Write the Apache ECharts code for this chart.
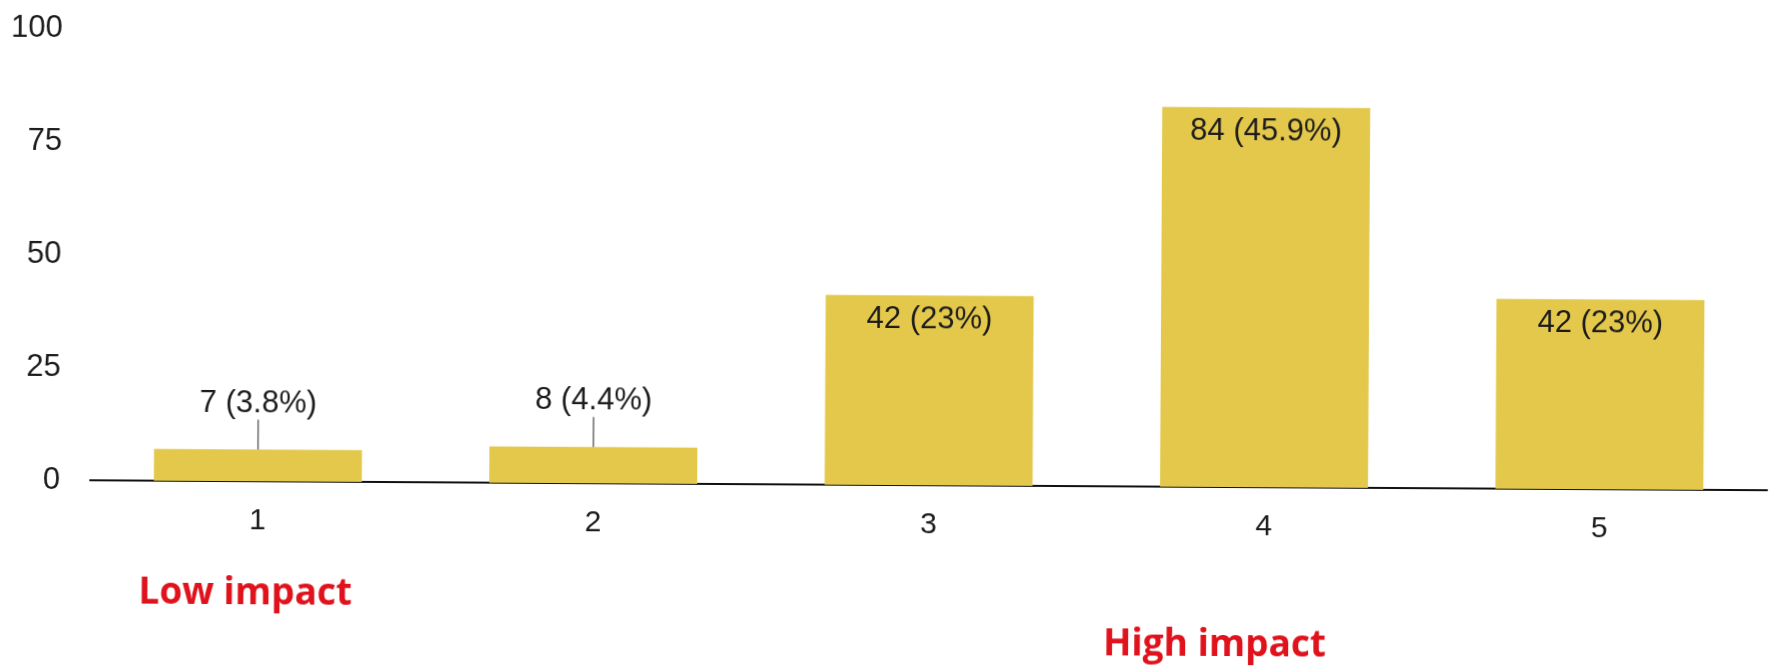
<!DOCTYPE html>
<html>
<head>
<meta charset="utf-8">
<style>
  html, body { margin: 0; padding: 0; background: #ffffff; }
  #chart { width: 1775px; height: 666px; transform: rotate(0.34deg); transform-origin: 50% 50%; }
</style>
<script src="https://cdn.jsdelivr.net/npm/echarts@6/dist/echarts.min.js"></script>
</head>
<body>
<div id="chart"></div>
<script>
// Ratings from 1 (low impact) to 5 (high impact) and how many responses each got
const categories = ['1', '2', '3', '4', '5'];
const counts = [7, 8, 42, 84, 42];
const yTicks = [0, 25, 50, 75, 100];

const total = counts.reduce((a, b) => a + b, 0);
const pct = v => {
  const p = Math.round(v / total * 1000) / 10;
  return (p % 1 === 0 ? p.toFixed(0) : p.toFixed(1)) + '%';
};

const textColor = '#1c1c1c';
const barColor = '#e3c84b';
const labelFont = 31;

// Short bars carry their label above, joined to the bar by a thin leader line
const SMALL = 20;
const barData = counts.map(v => {
  const text = v + ' (' + pct(v) + ')';
  if (v < SMALL) {
    return {
      value: v,
      label: {
        position: 'top',
        distance: 0,
        formatter: '{t|' + text + '}\n{l|}',
        rich: {
          t: { fontSize: labelFont, lineHeight: 32, color: textColor, fontFamily: 'Liberation Sans' },
          l: { width: 1.5, height: 30, lineHeight: 30, backgroundColor: '#6a6a6a', align: 'center' }
        }
      }
    };
  }
  return {
    value: v,
    label: { position: 'insideTop', distance: 9, formatter: text }
  };
});

const chart = echarts.init(document.getElementById('chart'), null, { renderer: 'canvas' });
chart.setOption({
  animation: false,
  backgroundColor: '#ffffff',
  grid: { left: 91, right: 7, top: 33, bottom: 181, containLabel: false },
  xAxis: {
    type: 'category',
    data: categories,
    axisLine: { show: true, lineStyle: { color: '#111111', width: 2 } },
    axisTick: { show: false },
    axisLabel: { color: textColor, fontSize: 30, fontFamily: 'Liberation Sans', margin: 25 },
    splitLine: { show: false }
  },
  yAxis: {
    type: 'value',
    min: yTicks[0],
    max: yTicks[yTicks.length - 1],
    interval: yTicks[1] - yTicks[0],
    axisLine: { show: false },
    axisTick: { show: false },
    splitLine: { show: false },
    axisLabel: { color: textColor, fontSize: 31, fontFamily: 'Liberation Sans', margin: 30 }
  },
  series: [{
    type: 'bar',
    data: barData,
    barCategoryGap: '38%',
    itemStyle: { color: barColor },
    label: {
      show: true,
      color: textColor,
      fontSize: labelFont,
      fontFamily: 'Liberation Sans'
    }
  }],
  graphic: [
    {
      type: 'text',
      left: 140,
      top: 579,
      style: { text: 'Low impact', fill: '#e0121c', font: 'bold 37px "Open Sans"' }
    },
    {
      type: 'text',
      left: 1105,
      top: 625,
      style: { text: 'High impact', fill: '#e0121c', font: 'bold 37px "Open Sans"' }
    }
  ]
});
</script>
</body>
</html>
